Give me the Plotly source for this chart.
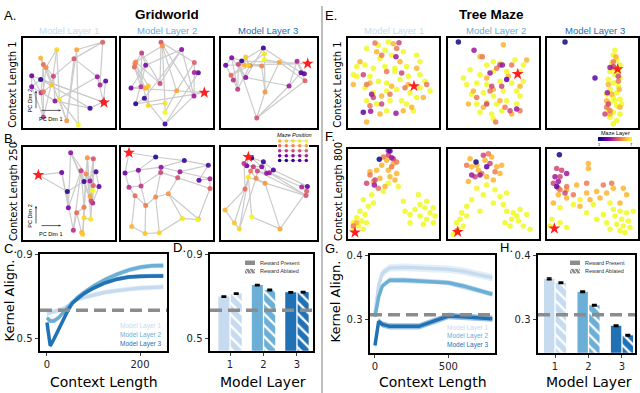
import plotly.graph_objects as go

W, H = 640, 393
LAYER_COLORS = ['#c6dbef', '#6baed6', '#2171b5']
GREY = '#8c8c8c'

# ---------------- Gridworld embeddings ----------------
# 25 nodes per panel in grid order (row-major, 5x5); node 0 is the rewarded cell (star)
A1_PC1 = [282, 92, 240, 280, 287, 65, 65, 135, 262, 270, 93, 100, 130, 192, 278,
          100, 100, 108, 170, 200, 92, 125, 140, 148, 205]
A1_PC2 = [218, 148, 235, 216, 153, 137, 170, 213, 140, 165, 188, 262, 138, 85, 35,
          103, 185, 112, 273, 58, 83, 165, 58, 208, 285]
A2_PC1 = [268, 62, 88, 150, 250, 48, 92, 200, 237, 238, 78, 80, 135, 138, 238,
          58, 60, 62, 142, 185, 92, 100, 100, 150, 150]
A2_PC2 = [188, 222, 205, 283, 128, 174, 105, 57, 198, 127, 170, 68, 160, 35, 97,
          110, 100, 95, 47, 182, 175, 168, 227, 220, 248]
A3_PC1 = [278, 80, 145, 258, 268, 32, 50, 92, 222, 246, 55, 68, 70, 125, 270,
          48, 105, 140, 150, 193, 88, 92, 100, 148, 148]
A3_PC2 = [100, 92, 53, 128, 131, 105, 82, 142, 168, 93, 150, 178, 102, 265, 152,
          135, 106, 107, 186, 96, 104, 80, 105, 70, 88]
B1_PC1 = [85, 172, 222, 258, 267, 155, 175, 182, 240, 248, 190, 213, 243, 250, 250,
          200, 222, 228, 232, 240, 215, 218, 222, 242, 248]
B1_PC2 = [110, 160, 130, 100, 145, 102, 210, 42, 128, 195, 278, 97, 188, 60, 142,
          225, 208, 107, 57, 175, 285, 290, 240, 245, 157]
B2_PC1 = [42, 122, 208, 280, 252, 30, 70, 138, 195, 285, 42, 78, 137, 188, 285,
          60, 92, 122, 160, 250, 50, 90, 133, 202, 248]
B2_PC2 = [42, 55, 66, 80, 126, 104, 95, 86, 100, 121, 147, 143, 102, 118, 151,
          173, 203, 177, 167, 244, 267, 288, 286, 242, 246]
B3_PC1 = [745, 755, 790, 820, 922, 740, 785, 800, 808, 905, 732, 760, 772, 918, 920,
          735, 752, 768, 795, 840, 675, 703, 718, 745, 755]
B3_PC2 = [100, 103, 115, 140, 190, 127, 130, 150, 148, 192, 120, 130, 143, 218, 205,
          198, 143, 165, 180, 320, 262, 302, 320, 162, 283]

# ---------------- Tree maze embeddings ----------------
# maze layer 7 / 6 / 5 points as (PC1, PC2); deeper-layer points as (PC1, PC2, layer)
E1 = [(205,110),(175,120),(140,130),(195,135),(215,150),(180,160),(250,140),(290,150),(300,170),(110,185),
      (135,180),(160,190),(195,185),(225,190),(260,185),(110,215),(150,215),(175,230),(200,235),(240,225),
      (265,215),(300,210),(330,260),(135,250),(160,265),(200,260),(230,255),(270,265),(300,250),(140,290),
      (170,300),(210,290),(245,290),(260,300),(200,320),(280,320),(100,210),(315,230),(290,280),(225,200)]
E1_L6 = [(220,115),(170,140),(240,170),(120,170),(290,190),(150,235),(215,245),(185,275),(265,240),
         (310,280),(180,330),(140,355),(250,320),(100,240),(275,310)]
E1_L5 = [(165,113),(185,150),(230,130),(200,200),(320,240),(150,305),(255,250),(210,270),(140,240)]
E1_LOW = [(237,112,4),(130,210,4),(185,300,4),(245,205,4),(160,280,4),(228,155,3),(155,270,3),
          (152,322,3),(228,328,3),(130,325,2)]

E2 = [(520,170),(540,175),(500,180),(585,165),(610,180),(600,200),(450,195),(480,210),(520,200),(560,200),
      (440,240),(470,235),(500,240),(540,230),(575,235),(455,270),(490,265),(520,275),(550,260),(590,260),
      (470,300),(500,295),(530,300),(560,290),(610,230),(480,325),(515,330),(545,320),(590,300),(430,220),
      (600,275),(520,345)]
E2_L6 = [(550,118),(480,155),(565,215),(500,220),(460,260),(540,290),(600,245),(490,310),(575,330),
         (520,255),(620,165),(445,300)]
E2_L5 = [(487,155),(530,190),(575,180),(470,280),(555,310),(527,355),(600,320),(510,260)]
E2_LOW = [(515,245,4),(570,320,4),(500,300,4),(545,245,4),(540,180,4),(462,135,3),(547,180,3),
          (510,205,3),(590,315,3),(560,225,2),(415,110,1)]

E3 = [(885,135),(880,150),(890,165),(875,175),(900,180),(870,200),(885,210),(900,220),(865,225),(880,235),
      (895,245),(870,255),(890,265),(860,270),(880,280),(900,285),(870,295),(890,305),(865,315),(880,325),
      (900,330),(870,340),(890,350),(880,360),(905,300),(895,200),(875,190),(885,290)]
E3_L6 = [(888,155),(865,240),(898,255),(860,290),(900,310),(870,330),(885,190),(875,270)]
E3_L5 = [(880,170),(895,230),(870,320),(860,310)]
E3_LOW = [(880,185,4),(865,300,4),(895,215,4),(855,330,4),(870,188,3),(862,265,3),(825,220,2),(735,110,1)]

F1 = [(235,190),(205,180),(130,230),(160,240),(145,250),(120,265),(135,275),(110,285),(125,295),(100,300),
      (140,300),(115,310),(130,320),(100,320),(250,235),(295,215),(320,235),(340,255),(300,245),(330,270),
      (270,275),(300,280),(320,290),(340,300),(310,305),(270,300),(285,260),(255,265),(315,255),(345,280),
      (155,215),(190,205)]
F1_L6 = [(200,110),(220,120),(185,125),(170,140),(205,140),(230,150),(150,145),(180,165),(210,160),
         (160,175),(195,190),(225,170),(110,300)]
F1_L5 = [(230,115),(150,155),(190,100),(175,195),(215,130),(100,310)]
F1_LOW = [(205,95,4),(140,180,4),(165,170,4),(220,105,4),(215,102,3),(163,185,3),(205,80,3),
          (210,82,2),(178,107,1)]

F2 = [(500,185),(525,200),(560,210),(540,220),(520,240),(550,245),(480,265),(440,250),(410,300),(420,290),
      (430,310),(415,320),(440,280),(425,270),(400,335),(560,265),(580,270),(600,260),(620,275),(575,290),
      (595,295),(610,310),(630,320),(570,310),(590,280),(555,300),(455,230),(490,215),(470,195)]
F2_L6 = [(450,105),(470,125),(495,110),(515,100),(530,130),(540,150),(475,140),(455,130),(500,160),
         (520,170),(445,175),(545,125)]
F2_L5 = [(440,125),(505,90),(485,150),(525,145),(410,325)]
F2_LOW = [(465,160,4),(490,95,4),(510,120,4),(455,155,3),(480,155,3),(500,130,2),(468,115,1)]

F3 = [(880,260),(900,265),(920,270),(940,265),(885,280),(905,290),(925,295),(890,305),(910,310),(930,315),
      (870,320),(900,325),(850,275),(830,290),(860,300),(800,270),(760,245),(720,255),(695,290),(720,300),
      (690,310),(740,315),(780,230),(820,245),(870,240),(915,330)]
F3_L6 = [(805,120),(805,135),(700,240),(740,200),(770,185),(800,210),(830,205),(860,210),(880,195),
         (910,195),(920,215),(740,225),(840,225),(715,215),(900,240),(780,250),(810,230)]
F3_L5 = [(740,190),(800,180),(850,185),(875,180),(760,215),(715,195),(720,200)]
F3_LOW = [(710,135,4),(725,140,4),(720,160,4),(700,180,4),(735,210,4),(705,160,3),(740,150,3),
          (715,175,3),(710,190,2),(718,93,1)]

TREE_REWARD = {'E1': (282, 245), 'E2': (593, 208), 'E3': (893, 193),
               'F1': (105, 330), 'F2': (413, 328), 'F3': (703, 318)}

# ---------------- Kernel alignment curves ----------------
C_X = [0, 7, 15, 25, 35, 45, 55, 65, 80, 100, 125, 150, 175, 200, 225, 250]
C_L1 = [0.620, 0.625, 0.630, 0.635, 0.642, 0.655, 0.675, 0.688, 0.697, 0.708, 0.720, 0.728, 0.735, 0.740, 0.743, 0.745]
C_L2 = [0.600, 0.585, 0.585, 0.600, 0.625, 0.650, 0.675, 0.695, 0.720, 0.750, 0.780, 0.805, 0.825, 0.838, 0.845, 0.846]
C_L3 = [0.578, 0.468, 0.500, 0.545, 0.590, 0.635, 0.670, 0.690, 0.715, 0.740, 0.765, 0.782, 0.792, 0.796, 0.797, 0.797]
C_SEM = [0.012, 0.011, 0.010]

G_X = [0, 25, 50, 100, 200, 300, 400, 500, 600, 700, 800]
G_L1 = [0.309, 0.353, 0.372, 0.380, 0.381, 0.380, 0.379, 0.378, 0.375, 0.370, 0.365]
G_L2 = [0.304, 0.335, 0.352, 0.361, 0.361, 0.360, 0.359, 0.357, 0.352, 0.345, 0.339]
G_L3 = [0.259, 0.297, 0.292, 0.289, 0.289, 0.289, 0.297, 0.305, 0.304, 0.302, 0.301]
G_SEM = [0.006, 0.004, 0.005]

MODEL_LAYERS = [1, 2, 3]
D_PRESENT = [0.700, 0.754, 0.720]
D_ABLATED = [0.714, 0.731, 0.721]
D_ERR = [0.003, 0.003, 0.003]
H_PRESENT = [0.363, 0.343, 0.290]
H_ABLATED = [0.357, 0.322, 0.275]
H_ERR = [0.0012, 0.0012, 0.0012]
GRID_BASELINE = 0.635
TREE_BASELINE = 0.307
MAZE_LAYERS = [1, 2, 3, 4, 5, 6, 7]

fig = go.Figure()
n_axes = [0]


def add_axes(x0, x1, y0, y1, xr, yr, box=True):
    n_axes[0] += 1
    s = '' if n_axes[0] == 1 else str(n_axes[0])
    common = dict(showgrid=False, zeroline=False, showticklabels=False, ticks='',
                  showline=box, mirror=box, linewidth=2, linecolor='black')
    fig.update_layout(**{
        'xaxis' + s: dict(domain=[x0 / W, x1 / W], range=xr, anchor='y' + s, **common),
        'yaxis' + s: dict(domain=[1 - y1 / H, 1 - y0 / H], range=yr, anchor='x' + s, **common),
    })
    return 'x' + s, 'y' + s


def grid_panel(box, xr, yr, pc1, pc2):
    xa, ya = add_axes(*box, xr, yr)
    ex, ey = [], []
    for r in range(5):
        for c in range(5):
            i = r * 5 + c
            for j in ([i + 1] if c < 4 else []) + ([i + 5] if r < 4 else []):
                ex += [pc1[i], pc1[j], None]
                ey += [pc2[i], pc2[j], None]
    fig.add_trace(go.Scatter(x=ex, y=ey, mode='lines', line=dict(color='#cbcbcb', width=1.2),
                             xaxis=xa, yaxis=ya, hoverinfo='skip'))
    fig.add_trace(go.Scatter(x=pc1, y=pc2, mode='markers', xaxis=xa, yaxis=ya,
                             marker=dict(size=5, color=list(range(25)), colorscale='Plasma',
                                         cmin=0, cmax=24, opacity=0.9)))
    fig.add_trace(go.Scatter(x=[pc1[0]], y=[pc2[0]], mode='markers', xaxis=xa, yaxis=ya,
                             marker=dict(symbol='star', size=9, color='#ff2020')))


def tree_panel(box, xr, yr, yellow, orange, salmon, low, star):
    xa, ya = add_axes(*box, xr, yr)
    pts = [(x, y, 7) for x, y in yellow] + [(x, y, 6) for x, y in orange] + \
          [(x, y, 5) for x, y in salmon] + sorted(low, key=lambda p: -p[2])
    fig.add_trace(go.Scatter(x=[p[0] for p in pts], y=[p[1] for p in pts], mode='markers',
                             xaxis=xa, yaxis=ya,
                             marker=dict(size=5.5, color=[p[2] for p in pts], colorscale='Plasma',
                                         cmin=1, cmax=7, opacity=0.85)))
    fig.add_trace(go.Scatter(x=[star[0]], y=[star[1]], mode='markers', xaxis=xa, yaxis=ya,
                             marker=dict(symbol='star', size=9, color='#ff2020')))


# Gridworld panels
grid_panel((22.7, 115, 32, 123.5), [38, 315], [294, 21], A1_PC1, A1_PC2)
grid_panel((120.7, 213.3, 32, 123.5), [17, 295], [294, 21], A2_PC1, A2_PC2)
grid_panel((220.7, 316.7, 32, 123.5), [17, 305], [294, 21], A3_PC1, A3_PC2)
grid_panel((22.7, 115, 143, 238), [38, 315], [309, 24], B1_PC1, B1_PC2)
grid_panel((120.7, 213.3, 143, 238), [17, 295], [309, 24], B2_PC1, B2_PC2)
grid_panel((220.7, 316.7, 143, 238), [662, 950], [355, 69], B3_PC1, B3_PC2)

# Tree maze panels
tree_panel((348.3, 439, 32, 123.5), [85, 357], [372, 96], E1, E1_L6, E1_L5, E1_LOW, TREE_REWARD['E1'])
tree_panel((447.7, 539, 32, 123.5), [383, 657], [372, 96], E2, E2_L6, E2_L5, E2_LOW, TREE_REWARD['E2'])
tree_panel((546.7, 638.3, 32, 123.5), [680, 955], [372, 96], E3, E3_L6, E3_L5, E3_LOW, TREE_REWARD['E3'])
tree_panel((348.3, 439, 145, 237), [85, 357], [351, 75], F1, F1_L6, F1_L5, F1_LOW, TREE_REWARD['F1'])
tree_panel((447.7, 539, 145, 237), [383, 657], [351, 75], F2, F2_L6, F2_L5, F2_LOW, TREE_REWARD['F2'])
tree_panel((546.7, 638.3, 145, 237), [680, 955], [351, 75], F3, F3_L6, F3_L5, F3_LOW, TREE_REWARD['F3'])

TICK = dict(showticklabels=True, ticks='outside', ticklen=3.5, tickwidth=1.2,
            tickfont=dict(size=10, color='#222', family='DejaVu Sans'))


def line_panel(box, xr, yr, xt, yt, xs, series, sems, baseline):
    xa, ya = add_axes(*box, xr, yr)
    s = xa[1:]
    fig.update_layout(**{'xaxis' + s: dict(tickvals=xt, **TICK), 'yaxis' + s: dict(tickvals=yt, **TICK)})
    fig.add_shape(type='line', xref=xa + ' domain', yref=ya, x0=0, x1=1, y0=baseline, y1=baseline,
                  line=dict(color=GREY, width=3.5, dash='12px,6px'))
    for ys, sem, col in zip(series, sems, LAYER_COLORS):
        up = [v + sem for v in ys]
        lo = [v - sem for v in ys]
        fig.add_trace(go.Scatter(x=xs + xs[::-1], y=up + lo[::-1], fill='toself', fillcolor=col,
                                 opacity=0.45, line=dict(width=0), xaxis=xa, yaxis=ya, hoverinfo='skip'))
    for ys, col in zip(series, LAYER_COLORS):
        fig.add_trace(go.Scatter(x=xs, y=ys, mode='lines', line=dict(color=col, width=3.5),
                                 xaxis=xa, yaxis=ya))


def bar_panel(box, xr, yr, yt, present, ablated, err, baseline, width):
    xa, ya = add_axes(*box, xr, yr)
    s = xa[1:]
    fig.update_layout(**{'xaxis' + s: dict(tickvals=MODEL_LAYERS, **TICK),
                         'yaxis' + s: dict(tickvals=yt, **TICK)})
    eb = dict(type='data', array=err, color='black', thickness=1.5, width=2.5)
    fig.add_trace(go.Bar(x=MODEL_LAYERS, y=present, width=width, offset=-width - 0.02,
                         marker=dict(color=LAYER_COLORS, line=dict(width=0)), error_y=eb,
                         xaxis=xa, yaxis=ya))
    # coloured stripes with thin white gaps = white hatch over the layer colour
    fig.add_trace(go.Bar(x=MODEL_LAYERS, y=ablated, width=width, offset=0.02,
                         marker=dict(color=LAYER_COLORS, line=dict(width=0),
                                     pattern=dict(shape='\\', fgcolor=LAYER_COLORS, bgcolor='white',
                                                  fillmode='replace', size=8, solidity=0.72)),
                         error_y=eb, xaxis=xa, yaxis=ya))
    fig.add_shape(type='line', xref=xa + ' domain', yref=ya, x0=0, x1=1, y0=baseline, y1=baseline,
                  line=dict(color=GREY, width=3.5, dash='12px,6px'), layer='above')


line_panel((40, 167, 252, 350), [-15, 258], [0.445, 0.9], [0, 200], [0.5, 0.9],
           C_X, [C_L1, C_L2, C_L3], C_SEM, GRID_BASELINE)
bar_panel((210, 313, 252, 350), [0.4, 3.48], [0.445, 0.9], [0.5, 0.9],
          D_PRESENT, D_ABLATED, D_ERR, GRID_BASELINE, 0.33)
line_panel((370, 495, 253, 352), [-34, 818], [0.248, 0.4], [0, 500], [0.3, 0.4],
           G_X, [G_L1, G_L2, G_L3], G_SEM, TREE_BASELINE)
bar_panel((538, 635, 253, 352), [0.49, 3.39], [0.248, 0.4], [0.3, 0.4],
          H_PRESENT, H_ABLATED, H_ERR, TREE_BASELINE, 0.31)

# Maze position key (5x5 grid)
xa, ya = add_axes(277, 309, 135, 159, [-0.4, 4.4], [-0.4, 4.4], box=False)
kx, ky, kex, key_y = [], [], [], []
for r in range(5):
    for c in range(5):
        kx.append(c)
        ky.append(r)
        if c < 4:
            kex += [c, c + 1, None]
            key_y += [r, r, None]
fig.add_trace(go.Scatter(x=kex, y=key_y, mode='lines', line=dict(color='#cbcbcb', width=0.8),
                         xaxis=xa, yaxis=ya))
fig.add_trace(go.Scatter(x=kx, y=ky, mode='markers', xaxis=xa, yaxis=ya,
                         marker=dict(size=3.5, color=list(range(25)), colorscale='Plasma', cmin=0, cmax=24)))

# Maze layer colour key
xa, ya = add_axes(598, 632, 133, 137.5, [0.5, 7.5], [-0.5, 0.5], box=False)
fig.add_trace(go.Heatmap(z=[MAZE_LAYERS], x=MAZE_LAYERS, y=[0], colorscale='Plasma', zsmooth='best',
                         showscale=False, xaxis=xa, yaxis=ya))

ann = []


def text(t, x, y, size, color='black', xanchor='center', angle=0, family='DejaVu Sans'):
    ann.append(dict(text=t, x=x / W, y=1 - y / H, xref='paper', yref='paper', showarrow=False,
                    xanchor=xanchor, yanchor='middle', textangle=angle,
                    font=dict(size=size, color=color, family=family)))


ARIAL = 'Liberation Sans'
for lab, x, y in [('A.', 2, 10), ('B.', 2, 135), ('C.', 2, 246), ('D.', 171, 245),
                  ('E.', 323, 10), ('F.', 323, 133), ('G.', 323, 246), ('H.', 498, 245)]:
    text(lab, x, y, 13, xanchor='left', family=ARIAL)
text('<b>Gridworld</b>', 167, 9, 13.5, family=ARIAL)
text('<b>Tree Maze</b>', 491, 9, 13.5, family=ARIAL)
for cx, col, lab in [(69, LAYER_COLORS[0], 'Model Layer 1'), (167, LAYER_COLORS[1], 'Model Layer 2'),
                     (268, LAYER_COLORS[2], 'Model Layer 3'), (394, LAYER_COLORS[0], 'Model Layer 1'),
                     (496, LAYER_COLORS[1], 'Model Layer 2'), (595, LAYER_COLORS[2], 'Model Layer 3')]:
    text(lab, cx, 25, 9.5, color=col, family=ARIAL)
text('Context Length 1', 13, 80, 10, angle=-90)
text('Context Length 250', 13, 189, 10, angle=-90)
text('Context Length 1', 338, 80, 10, angle=-90)
text('Context Length 800', 338, 189, 10, angle=-90)
text('Kernel Align.', 9, 299, 13, angle=-90)
text('Kernel Align.', 335, 300, 13, angle=-90)
text('Context Length', 104, 382, 14)
text('Model Layer', 263, 382, 14)
text('Context Length', 433, 382, 14)
text('Model Layer', 589, 382, 14)
for i, (lab, col) in enumerate(zip(['Model Layer 1', 'Model Layer 2', 'Model Layer 3'], LAYER_COLORS)):
    text(lab, 164, 325 + 9 * i, 6.5, color=col, xanchor='right', family=ARIAL)
    text(lab, 491, 327 + 8.5 * i, 6.5, color=col, xanchor='right', family=ARIAL)
text('<i>Maze Position</i>', 294, 131, 5.5, family=ARIAL)
text('Maze Layer', 615, 129, 5.5, family=ARIAL)
text('1', 599, 141, 4, family=ARIAL)
text('7', 631, 141, 4, family=ARIAL)
for x0 in (245, 570):
    text('Reward Present', x0 + 13, 261, 5.5, color='#333', xanchor='left', family=ARIAL)
    text('Reward Ablated', x0 + 13, 269.5, 5.5, color='#333', xanchor='left', family=ARIAL)

# PC direction arrows
for base in (106, 223):
    text('PC Dim 2', 30, base - 10, 5.5, angle=-90, family=ARIAL)
    text('PC Dim 1', 51, base + 8.5, 5.5, family=ARIAL)
    ann.append(dict(x=36 / W, y=1 - (base - 20) / H, xref='paper', yref='paper', ax=0, ay=19,
                    axref='pixel', ayref='pixel', text='', showarrow=True, arrowhead=2,
                    arrowsize=0.6, arrowwidth=0.8, arrowcolor='#333'))
    ann.append(dict(x=61 / W, y=1 - base / H, xref='paper', yref='paper', ax=-21, ay=0,
                    text='', showarrow=True, arrowhead=2, arrowsize=0.6, arrowwidth=0.8,
                    arrowcolor='#333'))

shapes = []
for x0 in (245, 570):
    for y0 in (258.5, 267):
        shapes.append(dict(type='rect', xref='paper', yref='paper', x0=x0 / W, x1=(x0 + 10) / W,
                           y0=1 - (y0 + 4.5) / H, y1=1 - y0 / H, fillcolor=GREY, line=dict(width=0)))
    for dx in (0, 4, 8):
        shapes.append(dict(type='line', xref='paper', yref='paper', x0=(x0 + dx) / W,
                           x1=(x0 + dx + 3) / W, y0=1 - 267 / H, y1=1 - 271.5 / H,
                           line=dict(color='white', width=1)))
shapes.append(dict(type='line', xref='paper', yref='paper', x0=322 / W, x1=322 / W, y0=0, y1=1,
                   line=dict(color='#a8a8a8', width=1.5)))

fig.update_layout(width=W, height=H, margin=dict(l=0, r=0, t=0, b=0), showlegend=False,
                  paper_bgcolor='white', plot_bgcolor='white', barmode='overlay',
                  font=dict(family='DejaVu Sans'), annotations=ann)
for sh in shapes:
    fig.add_shape(**sh)

# the page's default body margin would push the 640x393 figure out of the window
fig.write_html('out.html', config={'displayModeBar': False},
               post_script="document.body.style.margin='0';")
